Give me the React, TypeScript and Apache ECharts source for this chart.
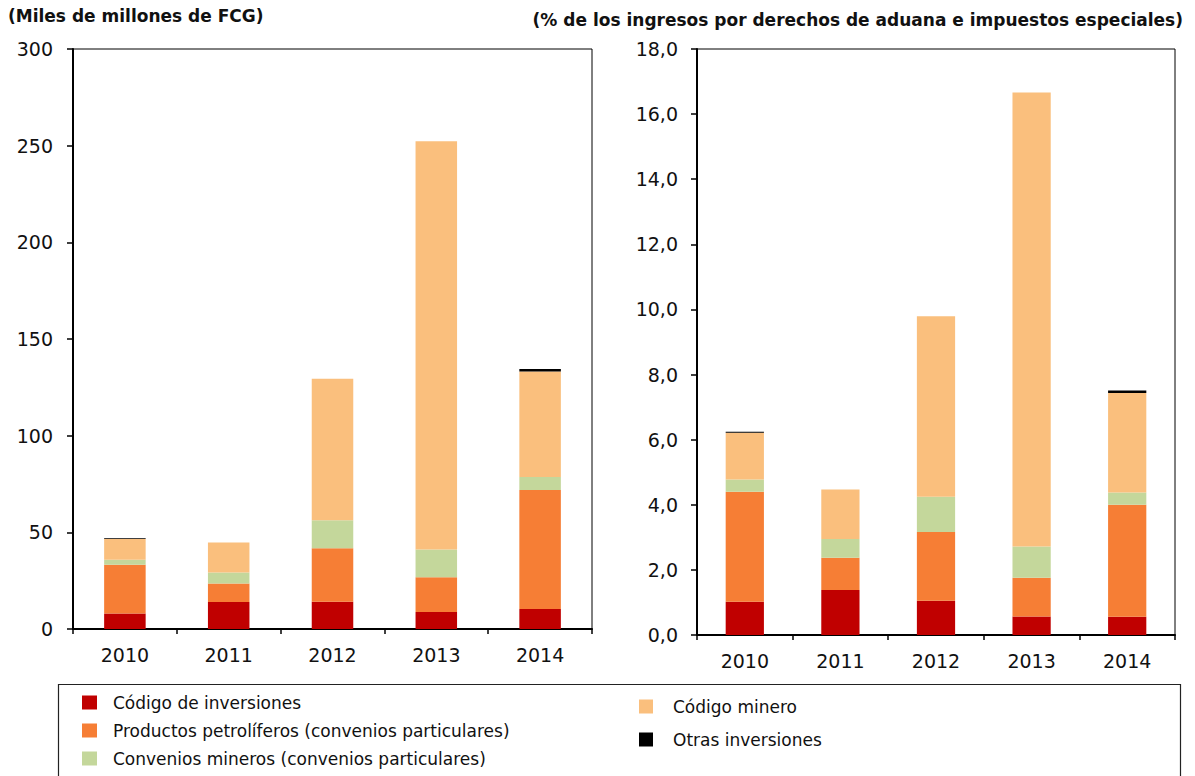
import React, { useEffect, useRef } from "react";
import * as echarts from "echarts";

const categories = ["2010", "2011", "2012", "2013", "2014"];

const seriesNames = [
  "Código de inversiones",
  "Productos petrolíferos (convenios particulares)",
  "Convenios mineros (convenios particulares)",
  "Código minero",
  "Otras inversiones",
];
const seriesColors = ["#C00000", "#F67E35", "#C4D79B", "#FABF7D", "#000000"];

// Left chart: Miles de millones de FCG
const leftCodigoInversiones = [8.0, 14.0, 14.1, 8.8, 10.4];
const leftPetroliferos = [25.2, 9.5, 27.7, 18.0, 61.5];
const leftConveniosMineros = [2.6, 5.7, 14.4, 14.3, 6.7];
const leftCodigoMinero = [10.8, 15.6, 73.3, 211.2, 54.6];
const leftOtras = [0.4, 0, 0, 0, 1.3];

// Right chart: % de los ingresos por derechos de aduana e impuestos especiales
const rightCodigoInversiones = [1.02, 1.38, 1.05, 0.57, 0.56];
const rightPetroliferos = [3.38, 0.99, 2.11, 1.19, 3.44];
const rightConveniosMineros = [0.38, 0.58, 1.09, 0.96, 0.38];
const rightCodigoMinero = [1.43, 1.52, 5.54, 13.94, 3.05];
const rightOtras = [0.03, 0, 0, 0, 0.08];

const leftTicks = { min: 0, max: 300, interval: 50 };
const rightTicks = { min: 0, max: 18, interval: 2 };

const FONT = "DejaVu Sans";

export default function App() {
  const ref = useRef<HTMLDivElement>(null);

  useEffect(() => {
    document.body.style.margin = "0";
    if (!ref.current) return;
    const chart = echarts.init(ref.current, null, { renderer: "svg" });

    const leftData = [leftCodigoInversiones, leftPetroliferos, leftConveniosMineros, leftCodigoMinero, leftOtras];
    const rightData = [rightCodigoInversiones, rightPetroliferos, rightConveniosMineros, rightCodigoMinero, rightOtras];

    const mkSeries = (data: number[][], idx: number, stack: string) =>
      data.map((d, i) => ({
        name: seriesNames[i],
        type: "bar",
        stack,
        xAxisIndex: idx,
        yAxisIndex: idx,
        barWidth: "40%",
        data: d,
        itemStyle: { color: seriesColors[i] },
        emphasis: { disabled: true },
      }));

    const xAxisCommon = {
      type: "category",
      data: categories,
      axisLine: { show: true, lineStyle: { color: "#000", width: 2 } },
      axisTick: { show: true, length: 5, lineStyle: { color: "#000", width: 1.5 } },
      axisLabel: { color: "#111", fontFamily: FONT, fontSize: 19, margin: 16 },
      splitLine: { show: false },
    };
    const yAxisCommon = {
      type: "value",
      axisLine: { show: true, lineStyle: { color: "#000", width: 2 } },
      axisTick: { show: true, length: 6, lineStyle: { color: "#000", width: 1.5 } },
      splitLine: { show: false },
    };

    const legendText = { fontFamily: FONT, fontSize: 17, color: "#111", lineHeight: 17 };

    chart.setOption({
      animation: false,
      backgroundColor: "#fff",
      textStyle: { fontFamily: FONT },
      title: [
        {
          text: "(Miles de millones de FCG)",
          left: 3,
          top: 2,
          textStyle: { fontFamily: FONT, fontSize: 17, fontWeight: "bold", color: "#111" },
        },
        {
          text: "(% de los ingresos por derechos de aduana e impuestos especiales)",
          right: 7,
          top: 6,
          textStyle: { fontFamily: FONT, fontSize: 17, fontWeight: "bold", color: "#111" },
        },
      ],
      grid: [
        { left: 73, right: 603, top: 49, bottom: 147, show: true, borderColor: "#000", borderWidth: 1 },
        { left: 697, right: 20, top: 49, bottom: 141, show: true, borderColor: "#000", borderWidth: 1 },
      ],
      xAxis: [
        { ...xAxisCommon, gridIndex: 0 },
        { ...xAxisCommon, gridIndex: 1 },
      ],
      yAxis: [
        {
          ...yAxisCommon,
          gridIndex: 0,
          ...leftTicks,
          axisLabel: { color: "#111", fontFamily: FONT, fontSize: 19, margin: 20 },
        },
        {
          ...yAxisCommon,
          gridIndex: 1,
          ...rightTicks,
          axisLabel: {
            color: "#111",
            fontFamily: FONT,
            fontSize: 19,
            margin: 19,
            formatter: (v: number) => v.toFixed(1).replace(".", ","),
          },
        },
      ],
      legend: [
        {
          data: seriesNames.slice(0, 3),
          orient: "vertical",
          left: 82,
          top: 694,
          height: 120,
          padding: 0,
          icon: "rect",
          itemWidth: 15,
          itemHeight: 14,
          itemGap: 11,
          selectedMode: false,
          textStyle: { ...legendText, padding: [0, 0, 0, 11] },
        },
        {
          data: seriesNames.slice(3),
          orient: "vertical",
          left: 639,
          top: 698,
          height: 120,
          padding: 0,
          icon: "rect",
          itemWidth: 14,
          itemHeight: 14,
          itemGap: 16,
          selectedMode: false,
          textStyle: { ...legendText, padding: [0, 0, 0, 15] },
        },
      ],
      graphic: [
        {
          type: "rect",
          shape: { x: 58.5, y: 684.5, width: 1122, height: 200 },
          style: { fill: "none", stroke: "#222", lineWidth: 1.2 },
          silent: true,
          z: -1,
        },
      ],
      series: [...mkSeries(leftData, 0, "left"), ...mkSeries(rightData, 1, "right")],
    });

    return () => chart.dispose();
  }, []);

  return <div ref={ref} style={{ width: 1195, height: 776 }} />;
}
